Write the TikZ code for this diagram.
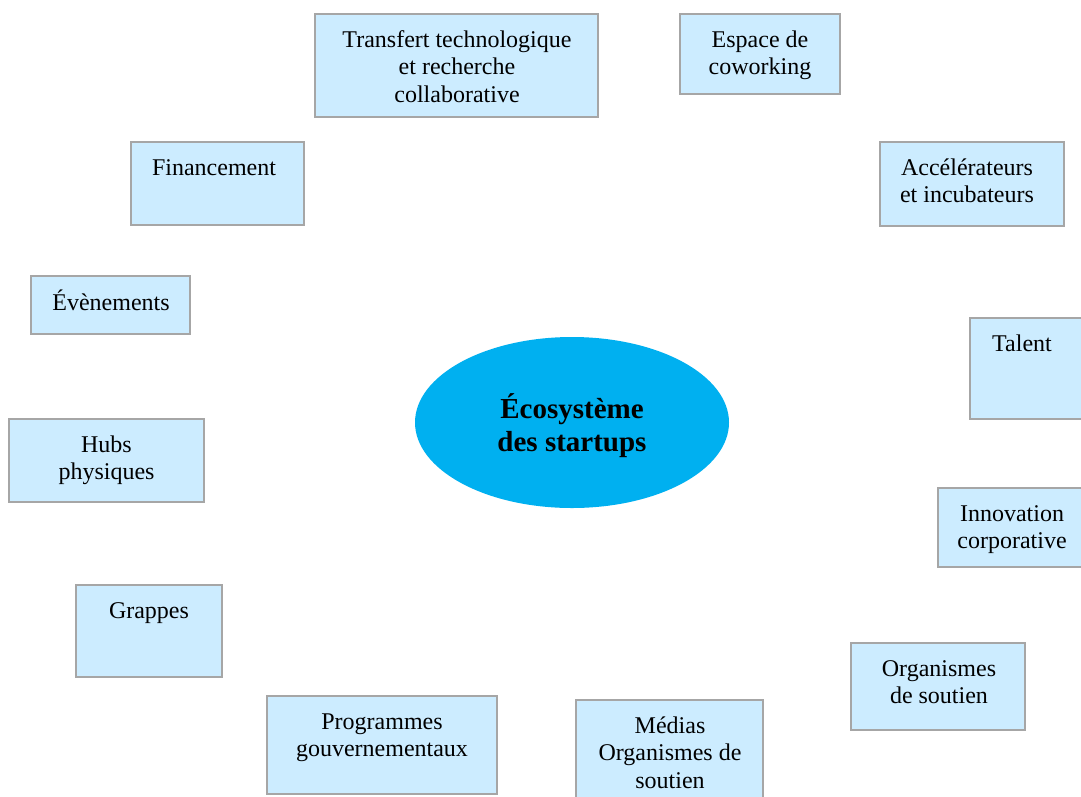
\documentclass[tikz,border=0pt]{standalone}
\usepackage{fontspec}
\setmainfont{Liberation Serif}
\usetikzlibrary{shapes.geometric}
\definecolor{boxfill}{HTML}{CCECFF}
\definecolor{boxline}{HTML}{A6A6A6}
\definecolor{ellfill}{HTML}{00B0F0}
\tikzset{
  panel/.style={draw=boxline, line width=2.4pt, fill=boxfill, rectangle, inner sep=0pt},
  lbl/.style={align=center, inner sep=0pt, anchor=north, font=\fontsize{24}{27.5}\selectfont},
  core/.style={ellipse, fill=ellfill, inner sep=0pt, minimum width=314pt, minimum height=171pt},
  corelbl/.style={align=center, inner sep=0pt, anchor=north, font=\bfseries\fontsize{29}{33}\selectfont}
}
% #1 name, #2 x1, #3 y1, #4 x2, #5 y2, #6 text centre x, #7 text
\newcommand\panelat[7]{%
  \node[panel, minimum width={(#4-#2)*1pt}, minimum height={(#5-#3)*1pt}] (#1) at ({(#2+#4)/2},{(#3+#5)/2}) {};
  \node[lbl] (#1-t) at (#6,{#3+13.75}) {\strut #7};
}
\begin{document}
\begin{tikzpicture}[x=1pt,y=-1pt]
\useasboundingbox (0,0) rectangle (1081,796);
\clip (0,0) rectangle (1081,796);
\fill[white] (0,0) rectangle (1081,796);

\panelat{transfert}{315}{14}{598}{117}{457}{Transfert technologique\\et recherche\\collaborative}
\panelat{espace}{680}{14}{840}{94}{760}{Espace de\\coworking}
\panelat{financement}{131}{142}{304}{225}{214}{Financement}
\panelat{accel}{880}{142}{1064}{226}{967}{Accélérateurs\\et incubateurs}
\panelat{evenements}{31}{276}{190}{334}{111}{Évènements}
\panelat{talent}{970}{318}{1090}{419}{1022}{Talent}
\panelat{hubs}{9}{419}{204}{502}{106.5}{Hubs\\physiques}
\panelat{innovation}{938}{488}{1090}{567}{1012}{Innovation\\corporative}
\panelat{grappes}{76}{585}{222}{677}{149}{Grappes}
\panelat{organismes}{851}{643}{1025}{730}{939}{Organismes\\de soutien}
\panelat{programmes}{267}{696}{497}{794}{382}{Programmes\\gouvernementaux}
\panelat{medias}{576}{700}{763}{802}{670}{Médias\\Organismes de\\soutien}

\node[core] (eco) at (572,422.5) {};
\node[corelbl] (eco-t) at (572,{417-23.1}) {\strut Écosystème\\des startups};
\end{tikzpicture}
\end{document}
